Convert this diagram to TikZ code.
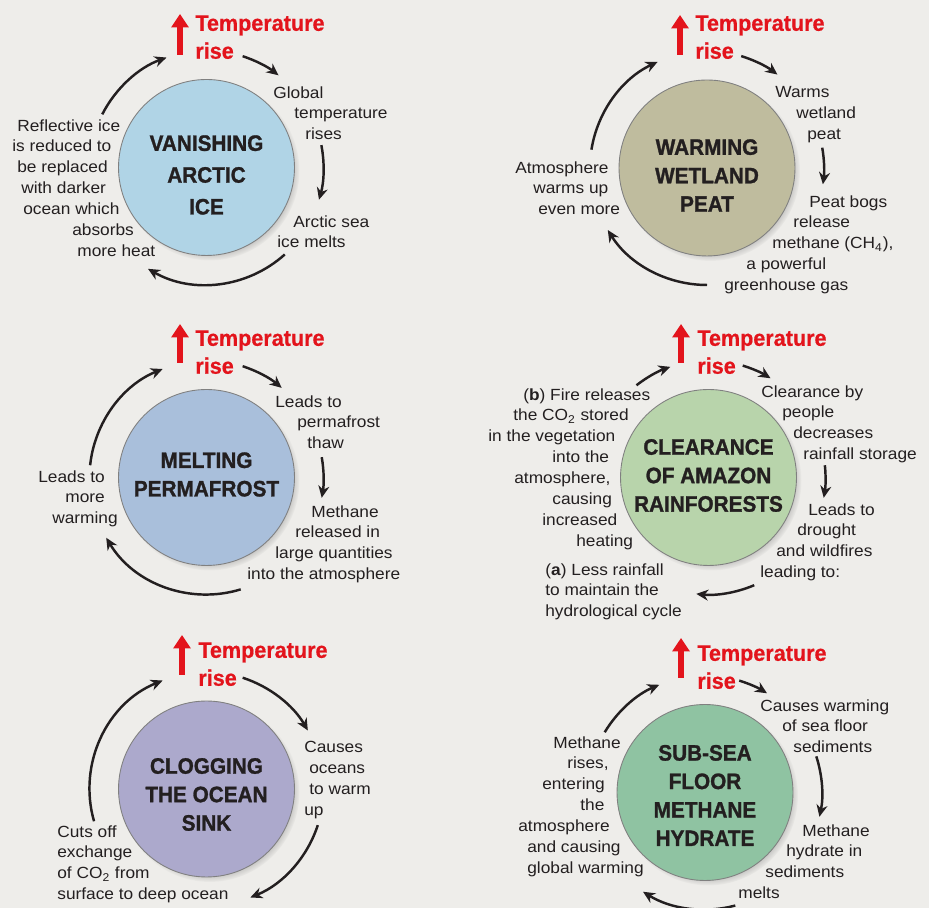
\documentclass[tikz,border=0pt]{standalone}
\usepackage{fontspec}
\setmainfont{Liberation Sans}[FakeStretch=1.07]
\newfontfamily\headfont{Liberation Sans}[FakeStretch=0.93, BoldFeatures={FakeBold=1.2}]
\newfontfamily\risefont{Liberation Sans}[FakeStretch=0.96, BoldFeatures={FakeBold=0.6}]
\usetikzlibrary{arrows.meta,shadows}

\definecolor{paper}{HTML}{EEEDEA}
\definecolor{ink}{HTML}{231F20}
\definecolor{tred}{HTML}{E3141C}
\definecolor{iceblue}{HTML}{B0D4E6}
\definecolor{peat}{HTML}{BFBC9E}
\definecolor{frost}{HTML}{A9BFDB}
\definecolor{forest}{HTML}{B8D4AB}
\definecolor{sink}{HTML}{ACA9CC}
\definecolor{hydr}{HTML}{8FC3A2}

\newlength{\pxu}
\setlength{\pxu}{0.02cm}
\newcommand{\ind}[1]{\hspace*{#1\pxu}}

\tikzset{
  disc/.style={circle, draw=black!50, line width=0.5pt, minimum size=3.52cm,
    inner sep=0pt,
    circular drop shadow={shadow scale=1.02, shadow xshift=1.8pt,
      shadow yshift=-1.8pt, opacity=0.65}},
  title/.style={inner sep=0pt, align=center, text=ink,
    font=\headfont\bfseries\fontsize{12.7}{16.2}\selectfont},
  risearrow/.style={draw=tred, line width=3.1pt,
    -{Triangle[length=0.27cm,width=0.34cm]}},
  riselabel/.style={anchor=north west, inner sep=0pt, align=left, text=tred,
    font=\risefont\bfseries\fontsize{12.8}{15.9}\selectfont},
  cycarrow/.style={draw=ink, line width=1.4pt,
    -{Stealth[length=0.24cm,width=0.22cm]}},
  note/.style={anchor=north west, inner sep=0pt, align=left, text=ink,
    font=\fontsize{9.2}{11.9}\selectfont}
}

\begin{document}
\begin{tikzpicture}[x=0.02cm,y=0.02cm]
\fill[paper] (0,0) rectangle (929,908);
\useasboundingbox (0,0) rectangle (929,908);

% vanishing arctic ice
\node[disc, fill=iceblue] (arctic) at (206.5,740.5) {};
\node[title, font=\headfont\bfseries\fontsize{12.7}{18.1}\selectfont] (arcticT) at ([yshift=-0.15cm]arctic.center) {VANISHING\\ARCTIC\\ICE};
\coordinate (A0) at (180,853);
\coordinate (A1) at (180,894);
\draw[risearrow] (A0) -- (A1);
\node[riselabel] (riseA) at (195,893) {Temperature\\rise};
\node[note] (globalT) at (273,822) {Global\\\ind{21}temperature\\\ind{32}rises};
\node[note] (seaIce) at (277,693) {\ind{16}Arctic sea\\ice melts};
\node[note] (reflect) at (12,789) {\ind{5}Reflective ice\\is reduced to\\\ind{5}be replaced\\\ind{9}with darker\\\ind{11}ocean which\\\ind{60}absorbs\\\ind{65}more heat};
\draw[cycarrow] ([shift={(153:117)}]arctic.center) arc[start angle=153, end angle=110, radius=117];
\draw[cycarrow] ([shift={(72:117)}]arctic.center) arc[start angle=72, end angle=52, radius=117];
\draw[cycarrow] ([shift={(11:117)}]arctic.center) arc[start angle=11, end angle=-16, radius=117];
\draw[cycarrow] ([shift={(-48:117)}]arctic.center) arc[start angle=-48, end angle=-120, radius=117];

% warming wetland peat
\node[disc, fill=peat] (wetland) at (707,740) {};
\node[title] (wetlandT) at ([yshift=-0.15cm]wetland.center) {WARMING\\WETLAND\\PEAT};
\coordinate (B0) at (680,853);
\coordinate (B1) at (680,893);
\draw[risearrow] (B0) -- (B1);
\node[riselabel] (riseB) at (695,893) {Temperature\\rise};
\node[note] (warmsPeat) at (775,822) {Warms\\\ind{21}wetland\\\ind{32}peat};
\node[note] (bogs) at (724,713) {\ind{85}Peat bogs\\\ind{69}release\\\ind{48}methane (CH\textsubscript{4}),\\\ind{22}a powerful\\greenhouse gas};
\node[note] (atmos) at (515,747) {Atmosphere\\\ind{18}warms up\\\ind{23}even more};
\draw[cycarrow] ([shift={(73:117)}]wetland.center) arc[start angle=73, end angle=53, radius=117];
\draw[cycarrow] ([shift={(10:117)}]wetland.center) arc[start angle=10, end angle=-8, radius=117];
\draw[cycarrow] ([shift={(-90:117)}]wetland.center) arc[start angle=-90, end angle=-148, radius=117];
\draw[cycarrow] ([shift={(171:117)}]wetland.center) arc[start angle=171, end angle=115, radius=117];

% melting permafrost
\node[disc, fill=frost] (permafrost) at (206.5,430.5) {};
\node[title] (permafrostT) at ([yshift=0.06cm]permafrost.center) {MELTING\\PERMAFROST};
\coordinate (C0) at (180,545);
\coordinate (C1) at (180,584);
\draw[risearrow] (C0) -- (C1);
\node[riselabel] (riseC) at (195,578) {Temperature\\rise};
\node[note] (thaw) at (275,513) {Leads to\\\ind{22}permafrost\\\ind{32}thaw};
\node[note] (released) at (247,403) {\ind{64}Methane\\\ind{48}released in\\\ind{28}large quantities\\into the atmosphere};
\node[note] (moreWarm) at (38,438) {Leads to\\\ind{27}more\\\ind{14}warming};
\draw[cycarrow] ([shift={(72:117)}]permafrost.center) arc[start angle=72, end angle=50, radius=117];
\draw[cycarrow] ([shift={(10:117)}]permafrost.center) arc[start angle=10, end angle=-10, radius=117];
\draw[cycarrow] ([shift={(-73:117)}]permafrost.center) arc[start angle=-73, end angle=-149, radius=117];
\draw[cycarrow] ([shift={(174:117)}]permafrost.center) arc[start angle=174, end angle=112, radius=117];

% clearance of amazon rainforests
\node[disc, fill=forest] (amazon) at (708.5,430.5) {};
\node[title] (amazonT) at ([yshift=0.04cm]amazon.center) {CLEARANCE\\OF AMAZON\\RAINFORESTS};
\coordinate (D0) at (681,545);
\coordinate (D1) at (681,584);
\draw[risearrow] (D0) -- (D1);
\node[riselabel] (riseD) at (697,578) {Temperature\\rise};
\node[note] (clearance) at (761,523) {Clearance by\\\ind{21}people\\\ind{32}decreases\\\ind{42}rainfall storage};
\node[note] (drought) at (760,405) {\ind{48}Leads to\\\ind{37}drought\\\ind{16}and wildfires\\leading to:};
\node[note] (lessRain) at (545,345) {(\textbf{a}) Less rainfall\\to maintain the\\hydrological cycle};
\node[note] (fire) at (488,520) {\ind{35}(\textbf{b}) Fire releases\\\ind{25}the CO\textsubscript{2} stored\\in the vegetation\\\ind{64}into the\\\ind{26}atmosphere,\\\ind{64}causing\\\ind{54}increased\\\ind{88}heating};
\draw[cycarrow] ([shift={(73:117)}]amazon.center) arc[start angle=73, end angle=58, radius=117];
\draw[cycarrow] ([shift={(6:117)}]amazon.center) arc[start angle=6, end angle=-10, radius=117];
\draw[cycarrow] ([shift={(-67:117)}]amazon.center) arc[start angle=-67, end angle=-96, radius=117];
\draw[cycarrow] ([shift={(128:117)}]amazon.center) arc[start angle=128, end angle=109, radius=117];

% clogging the ocean sink
\node[disc, fill=sink] (ocean) at (206.5,119) {};
\node[title] (oceanT) at ([yshift=-0.11cm]ocean.center) {CLOGGING\\THE OCEAN\\SINK};
\coordinate (E0) at (182,233);
\coordinate (E1) at (182,273);
\draw[risearrow] (E0) -- (E1);
\node[riselabel] (riseE) at (198,266) {Temperature\\rise};
\node[note] (oceansWarm) at (304,167) {Causes\\\ind{5}oceans\\\ind{5}to warm\\up};
\node[note] (cutsOff) at (57,83) {Cuts off\\exchange\\of CO\textsubscript{2} from\\surface to deep ocean};
\draw[cycarrow] ([shift={(72:117)}]ocean.center) arc[start angle=72, end angle=30, radius=117];
\draw[cycarrow] ([shift={(-18:117)}]ocean.center) arc[start angle=-18, end angle=-68, radius=117];
\draw[cycarrow] ([shift={(196:117)}]ocean.center) arc[start angle=196, end angle=112, radius=117];

% sub-sea floor methane hydrate
\node[disc, fill=hydr] (hydrate) at (705,115.5) {};
\node[title] (hydrateT) at ([yshift=-0.06cm]hydrate.center) {SUB-SEA\\FLOOR\\METHANE\\HYDRATE};
\coordinate (F0) at (681,230);
\coordinate (F1) at (681,270);
\draw[risearrow] (F0) -- (F1);
\node[riselabel] (riseF) at (697,263) {Temperature\\rise};
\node[note] (seaFloor) at (760,209) {Causes warming\\\ind{22}of sea floor\\\ind{33}sediments};
\node[note] (melts) at (738,84) {\ind{64}Methane\\\ind{48}hydrate in\\\ind{27}sediments\\melts};
\node[note] (rises) at (518,172) {\ind{35}Methane\\\ind{49}rises,\\\ind{24}entering\\\ind{62}the\\atmosphere\\\ind{9}and causing\\\ind{9}global warming};
\draw[cycarrow] ([shift={(73:117)}]hydrate.center) arc[start angle=73, end angle=58, radius=117];
\draw[cycarrow] ([shift={(18:117)}]hydrate.center) arc[start angle=18, end angle=-12, radius=117];
\draw[cycarrow] ([shift={(-75:117)}]hydrate.center) arc[start angle=-75, end angle=-122, radius=117];
\draw[cycarrow] ([shift={(149:117)}]hydrate.center) arc[start angle=149, end angle=113, radius=117];
\end{tikzpicture}
\end{document}
